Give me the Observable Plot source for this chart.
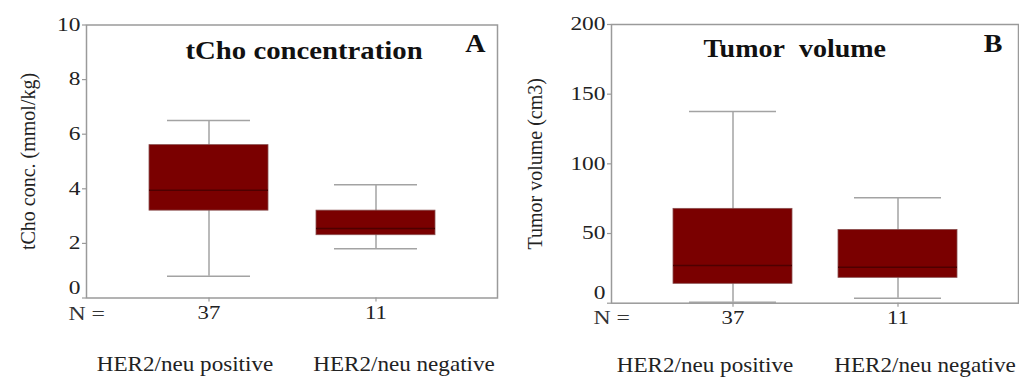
<!DOCTYPE html>
<html>
<head>
<meta charset="utf-8">
<script src="https://cdn.jsdelivr.net/npm/d3@7"></script>
<script src="https://cdn.jsdelivr.net/npm/@observablehq/plot@0.6"></script>
<style>
  body { margin: 0; background: #fff; }
  #wrap { position: relative; width: 1019px; height: 377px; overflow: hidden; background: #fff; }
  #wrap svg { position: absolute; top: 0; }
</style>
</head>
<body>
<div id="wrap"></div>
<script>
// ---- data ----
const categories = ["HER2/neu positive", "HER2/neu negative"];
const nCounts = [37, 11];

const tChoMin = [0.8, 1.8];
const tChoQ1 = [3.2, 2.3];
const tChoMedian = [3.95, 2.55];
const tChoQ3 = [5.6, 3.2];
const tChoMax = [6.5, 4.15];
const tChoTicks = [0, 2, 4, 6, 8, 10];

const volMin = [0.7, 3.6];
const volQ1 = [13.9, 18.2];
const volMedian = [27, 25.8];
const volQ3 = [67.7, 52.6];
const volMax = [137.5, 75.6];
const volTicks = [0, 50, 100, 150, 200];

const titleA = "tCho concentration";
const titleB = "Tumor\u00a0 volume";
const yLabelA = "tCho conc. (mmol/kg)";
const yLabelB = "Tumor volume (cm3)";
const nLabel = "N =";

// ---- helpers ----
const nByCat = new Map(categories.map((c, i) => [c, nCounts[i]]));
function table(mins, q1s, meds, q3s, maxs) {
  return categories.map((c, i) => ({cat: c, min: mins[i], q1: q1s[i], med: meds[i], q3: q3s[i], max: maxs[i]}));
}

const BOX = "#7a0000";
const MED = "#4e0000";
const GRAY = "#a3a3a3";
const FRAME = "#9a9a9a";
const FONT = "'Liberation Serif', 'Times New Roman', serif";

// horizontal stretch of the reference's lettering, matched by text content
const stretchByText = new Map([
  [titleA, 1.15], [titleB, 1.12], ["A", 1.12], ["B", 1.12],
  [nLabel, 1.25], [categories[0], 1.05], [categories[1], 1.05],
  ...nCounts.map(n => [String(n), 1.2]),
  ["0", 1.3]
]);
const TICK_STRETCH = 1.3;

function panel(cfg) {
  const data = table(...cfg.stats);
  return Plot.plot({
    width: cfg.width,
    height: 377,
    marginLeft: cfg.mL, marginRight: cfg.mR, marginTop: cfg.mT, marginBottom: cfg.mB,
    style: {fontFamily: FONT, fontSize: "18px", color: "#222", background: "transparent", overflow: "visible"},
    x: {type: "band", domain: categories, paddingInner: cfg.pi, paddingOuter: cfg.po, label: null},
    y: {domain: cfg.domain, label: null},
    marks: [
      Plot.frame({stroke: FRAME, strokeWidth: 1.5}),
      Plot.ruleX(data, {x: "cat", y1: "min", y2: "max", stroke: GRAY, strokeWidth: 1.5}),
      Plot.tickY(data, {x: "cat", y: "min", insetLeft: cfg.cap, insetRight: cfg.cap, stroke: GRAY, strokeWidth: 1.5}),
      Plot.tickY(data, {x: "cat", y: "max", insetLeft: cfg.cap, insetRight: cfg.cap, stroke: GRAY, strokeWidth: 1.5}),
      Plot.barY(data, {x: "cat", y1: "q1", y2: "q3", fill: BOX, stroke: "#8a5050", strokeWidth: 0.8}),
      Plot.tickY(data, {x: "cat", y: "med", stroke: MED, strokeWidth: 1.5}),
      Plot.axisY({ticks: cfg.ticks, tickSize: 4, tickPadding: 2, stroke: FRAME, strokeWidth: 1.2,
                  tickFormat: d => d === 0 ? "" : String(d), fontSize: 18, label: null}),
      Plot.axisY({ticks: [0], tickSize: 0, tickPadding: 6, dy: -10, fontSize: 18, label: null,
                  tickFormat: d => String(d)}),
      Plot.axisX({tickSize: 4, tickPadding: 3, stroke: FRAME, strokeWidth: 1.2,
                  tickFormat: d => String(nByCat.get(d)), fontSize: 19, label: null}),
      Plot.text([nLabel], {text: d => d, frameAnchor: "bottom-left", textAnchor: "start", lineAnchor: "bottom",
                           dx: -18, dy: cfg.nDy, fontSize: 19, fill: "#333"}),
      Plot.text([categories[0]], {x: d => d, text: d => d, frameAnchor: "bottom", textAnchor: "middle", lineAnchor: "bottom",
                                  dx: cfg.catDx[0], dy: cfg.catDy, fontSize: 22}),
      Plot.text([categories[1]], {x: d => d, text: d => d, frameAnchor: "bottom", textAnchor: "middle", lineAnchor: "bottom",
                                  dx: cfg.catDx[1], dy: cfg.catDy, fontSize: 22}),
      Plot.text([cfg.title], {text: d => d, frameAnchor: "top-left", textAnchor: "start", lineAnchor: "bottom",
                              dx: cfg.titleDx, dy: cfg.titleDy, fontSize: 25, fontWeight: "bold", fill: "#111"}),
      Plot.text([cfg.letter], {text: d => d, frameAnchor: "top-right", textAnchor: "end", lineAnchor: "bottom",
                               dx: cfg.letterDx, dy: cfg.letterDy, fontSize: 25, fontWeight: "bold", fill: "#111"}),
      Plot.text([cfg.ylabel], {text: d => d, frameAnchor: "left", textAnchor: "middle", lineAnchor: "middle",
                               rotate: -90, dx: cfg.ylabDx, fontSize: 20, fill: "#222"})
    ]
  });
}

function stretchText(svg) {
  const apply = (t, k) => {
    if (t.hasAttribute("textLength")) return;
    const w = t.getComputedTextLength();
    if (w > 0) {
      t.setAttribute("textLength", (w * k).toFixed(2));
      t.setAttribute("lengthAdjust", "spacingAndGlyphs");
    }
  };
  svg.querySelectorAll("text").forEach(t => {
    const s = t.textContent;
    if (stretchByText.has(s)) apply(t, stretchByText.get(s));
  });
  svg.querySelectorAll('g[aria-label="y-axis tick label"] text').forEach(t => apply(t, TICK_STRETCH));
}

const wrap = document.getElementById("wrap");

const a = panel({
  width: 510, mL: 86, mR: 13, mT: 24.5, mB: 79.5,
  pi: 0.29, po: 0.37, cap: 18, domain: [0, 10], ticks: tChoTicks,
  stats: [tChoMin, tChoQ1, tChoMedian, tChoQ3, tChoMax],
  nDy: 21.5, catDy: 72.5, catDx: [-24, 28],
  title: titleA, titleDx: 99, titleDy: 33.8,
  letter: "A", letterDx: -12, letterDy: 27.2,
  ylabel: yLabelA, ylabDx: -58
});
a.style.left = "0px";
wrap.appendChild(a);
stretchText(a);

const b = panel({
  width: 509, mL: 101, mR: 1, mT: 24, mB: 74.3,
  pi: 0.28, po: 0.37, cap: 16, domain: [0, 200], ticks: volTicks,
  stats: [volMin, volQ1, volMedian, volQ3, volMax],
  nDy: 21, catDy: 69, catDx: [-28, 27],
  title: titleB, titleDx: 92, titleDy: 32.7,
  letter: "B", letterDx: -16, letterDy: 27.7,
  ylabel: yLabelB, ylabDx: -76
});
b.style.left = "510px";
wrap.appendChild(b);
stretchText(b);
</script>
</body>
</html>
